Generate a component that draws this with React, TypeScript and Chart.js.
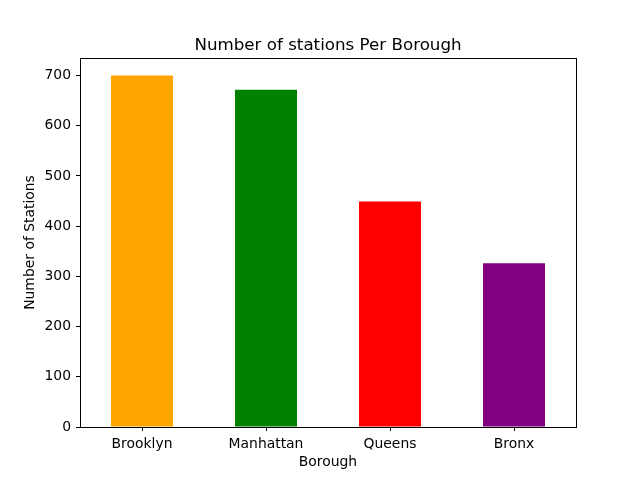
import React, { useEffect, useRef } from "react";
import { Chart, registerables } from "chart.js";

Chart.register(...registerables);

const categories = ["Brooklyn", "Manhattan", "Queens", "Bronx"];
const stationCounts = [700, 672, 449, 326];
const barColors = ["orange", "green", "red", "purple"];
const yTickStep = 100;
const yMax = 735;
const chartTitle = "Number of stations Per Borough";

const FONT = "'DejaVu Sans', sans-serif";

const frame = {
  id: "frame",
  afterDraw(chart: any) {
    const { ctx, chartArea } = chart;
    ctx.save();
    ctx.strokeStyle = "#000";
    ctx.lineWidth = 1;
    ctx.strokeRect(
      Math.round(chartArea.left) + 0.5,
      Math.round(chartArea.top) + 0.5,
      Math.round(chartArea.right - chartArea.left),
      Math.round(chartArea.bottom - chartArea.top)
    );
    ctx.fillStyle = "#000";
    ctx.font = `16.7px ${FONT}`;
    ctx.textAlign = "center";
    ctx.textBaseline = "alphabetic";
    ctx.fillText(chartTitle, (chartArea.left + chartArea.right) / 2, 50);
    ctx.restore();
  },
};

export default function App() {
  const ref = useRef<HTMLCanvasElement>(null);
  useEffect(() => {
    if (!ref.current) return;
    const chart = new Chart(ref.current, {
      type: "bar",
      data: {
        labels: categories,
        datasets: [
          {
            data: stationCounts,
            backgroundColor: barColors,
            borderWidth: 0,
            barPercentage: 0.5,
            categoryPercentage: 1,
          },
        ],
      },
      options: {
        animation: false,
        responsive: false,
        layout: { padding: { top: 58, right: 64, bottom: 0, left: 0 } },
        plugins: {
          legend: { display: false },
          tooltip: { enabled: false },
          title: { display: false },
        },
        scales: {
          x: {
            offset: true,
            grid: { display: true, offset: false, drawOnChartArea: false, drawTicks: true, tickLength: 4, color: "#000" },
            border: { display: true, color: "#000" },
            ticks: { color: "#000", font: { family: FONT, size: 13.9 }, padding: 5, maxRotation: 0 },
            title: {
              display: true,
              text: "Borough",
              color: "#000",
              font: { family: FONT, size: 13.9, lineHeight: 1.2 },
              padding: { top: 0, bottom: 9.7 },
            },
            afterFit: (s: any) => {
              s.height = 53;
            },
          },
          y: {
            min: 0,
            max: yMax,
            grid: { display: true, drawOnChartArea: false, drawTicks: true, tickLength: 4, color: "#000" },
            border: { display: true, color: "#000" },
            ticks: { stepSize: yTickStep, color: "#000", font: { family: FONT, size: 13.9 }, padding: 5 },
            afterBuildTicks: (s: any) => {
              s.ticks = s.ticks.filter((t: any) => t.value % yTickStep === 0);
            },
            title: {
              display: true,
              text: "Number of Stations",
              color: "#000",
              font: { family: FONT, size: 13.9, lineHeight: 1.2 },
              padding: { top: 21.7, bottom: 0 },
            },
            afterFit: (s: any) => {
              s.width = 80;
            },
          },
        },
      },
      plugins: [frame],
    });
    return () => chart.destroy();
  }, []);
  return (
    <canvas
      ref={ref}
      width={640}
      height={480}
      style={{ position: "fixed", left: 0, top: 0, width: 640, height: 480, background: "#fff" }}
    />
  );
}
